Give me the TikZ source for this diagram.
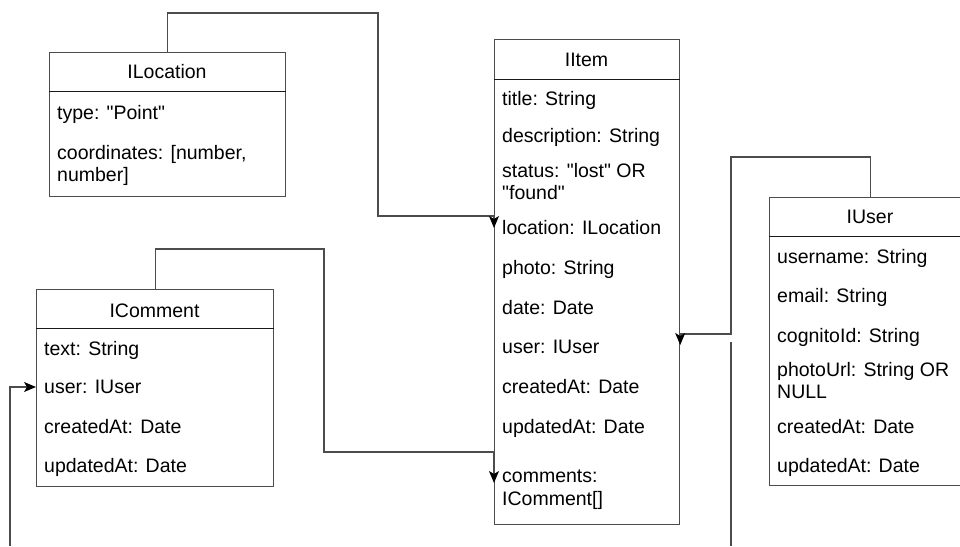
\documentclass[tikz,border=0pt]{standalone}
\usepackage{fontspec}
\setmainfont{Liberation Sans}[Ligatures=TeXOff]
\usetikzlibrary{arrows.meta}
\begin{document}
\begin{tikzpicture}[x=1pt,y=-1pt,
  box/.style={draw=black!70, line width=1.2pt, fill=white, rectangle, inner sep=0pt, anchor=north west},
  sepline/.style={draw=black!90, line width=0.9pt},
  attr/.style={anchor=base west, inner sep=0pt, font=\fontsize{19.5pt}{22pt}\selectfont},
  head/.style={anchor=base, inner sep=0pt, font=\fontsize{19.5pt}{22pt}\selectfont},
  wire/.style={draw=black!70, line width=1.2pt},
  tip/.style={-{Stealth[length=12pt,width=10pt,inset=3pt,color=black]}},
]
\useasboundingbox (0,0) rectangle (960,546);
\clip (0,0) rectangle (960,546);

% class boxes
\node[box, minimum width=236pt, minimum height=144pt] (loc) at (49,52) {};
\node[box, minimum width=185pt, minimum height=485pt] (item) at (494,39) {};
\node[box, minimum width=202pt, minimum height=288pt] (user) at (769,197) {};
\node[box, minimum width=237pt, minimum height=197pt] (cmt) at (36,289) {};

% header separators
\draw[sepline] (loc.west |- 0,91) -- (loc.east |- 0,91);
\draw[sepline] (item.west |- 0,79) -- (item.east |- 0,79);
\draw[sepline] (user.west |- 0,236) -- (user.east |- 0,236);
\draw[sepline] (cmt.west |- 0,328) -- (cmt.east |- 0,328);

% ILocation
\node[head] (locT) at (167,78) {ILocation};
\node[attr] (loc1) at (57,119) {type: "Point"};
\node[attr] (loc2) at (57,159) {coordinates: [number,};
\node[attr] (loc2b) at (57,181) {number]};

% IItem
\node[head] (itemT) at (586.5,66) {IItem};
\node[attr] (item1) at (502,105) {title: String};
\node[attr] (item2) at (502,142) {description: String};
\node[attr] (item3) at (502,177) {status: "lost" OR};
\node[attr] (item3b) at (502,199) {"found"};
\node[attr] (itemLoc) at (502,234) {location: ILocation};
\node[attr] (item5) at (502,274) {photo: String};
\node[attr] (item6) at (502,314) {date: Date};
\node[attr] (item7) at (502,353) {user: IUser};
\node[attr] (item8) at (502,393) {createdAt: Date};
\node[attr] (item9) at (502,433) {updatedAt: Date};
\node[attr] (itemCom) at (502,482) {comments:};
\node[attr] (itemComb) at (502,505) {IComment[]};

% IUser
\node[head] (userT) at (870,223) {IUser};
\node[attr] (user1) at (777,263) {username: String};
\node[attr] (user2) at (777,302) {email: String};
\node[attr] (user3) at (777,342) {cognitoId: String};
\node[attr] (user4) at (777,376) {photoUrl: String OR};
\node[attr] (user4b) at (777,398) {NULL};
\node[attr] (user5) at (777,433) {createdAt: Date};
\node[attr] (user6) at (777,472) {updatedAt: Date};

% IComment
\node[head] (cmtT) at (154.5,317) {IComment};
\node[attr] (cmt1) at (44,355) {text: String};
\node[attr] (cmtUser) at (44,393) {user: IUser};
\node[attr] (cmt3) at (44,433) {createdAt: Date};
\node[attr] (cmt4) at (44,472) {updatedAt: Date};

% connectors
\draw[wire,tip] (loc.north) |- (378,13) -- (378,216) -- (item.west |- 0,216) -- (item.west |- 0,228);
\draw[wire,tip] (cmt.north) |- (324,249) -- (324,452) -- (item.west |- 0,452) -- (item.west |- 0,483);
\draw[wire,tip] (user.north) |- (731,157) -- (731,334) -- (item.east |- 0,334) -- (item.east |- 0,345);

% edges leaving the picture at the bottom
\coordinate (cutA) at (731,342);
\coordinate (cutAend) at (731,546);
\coordinate (cutB) at (10,546);
\draw[wire] (cutA) -- (cutAend);
\draw[wire,tip] (cutB) |- (cmt.west |- 0,387);
\end{tikzpicture}
\end{document}
